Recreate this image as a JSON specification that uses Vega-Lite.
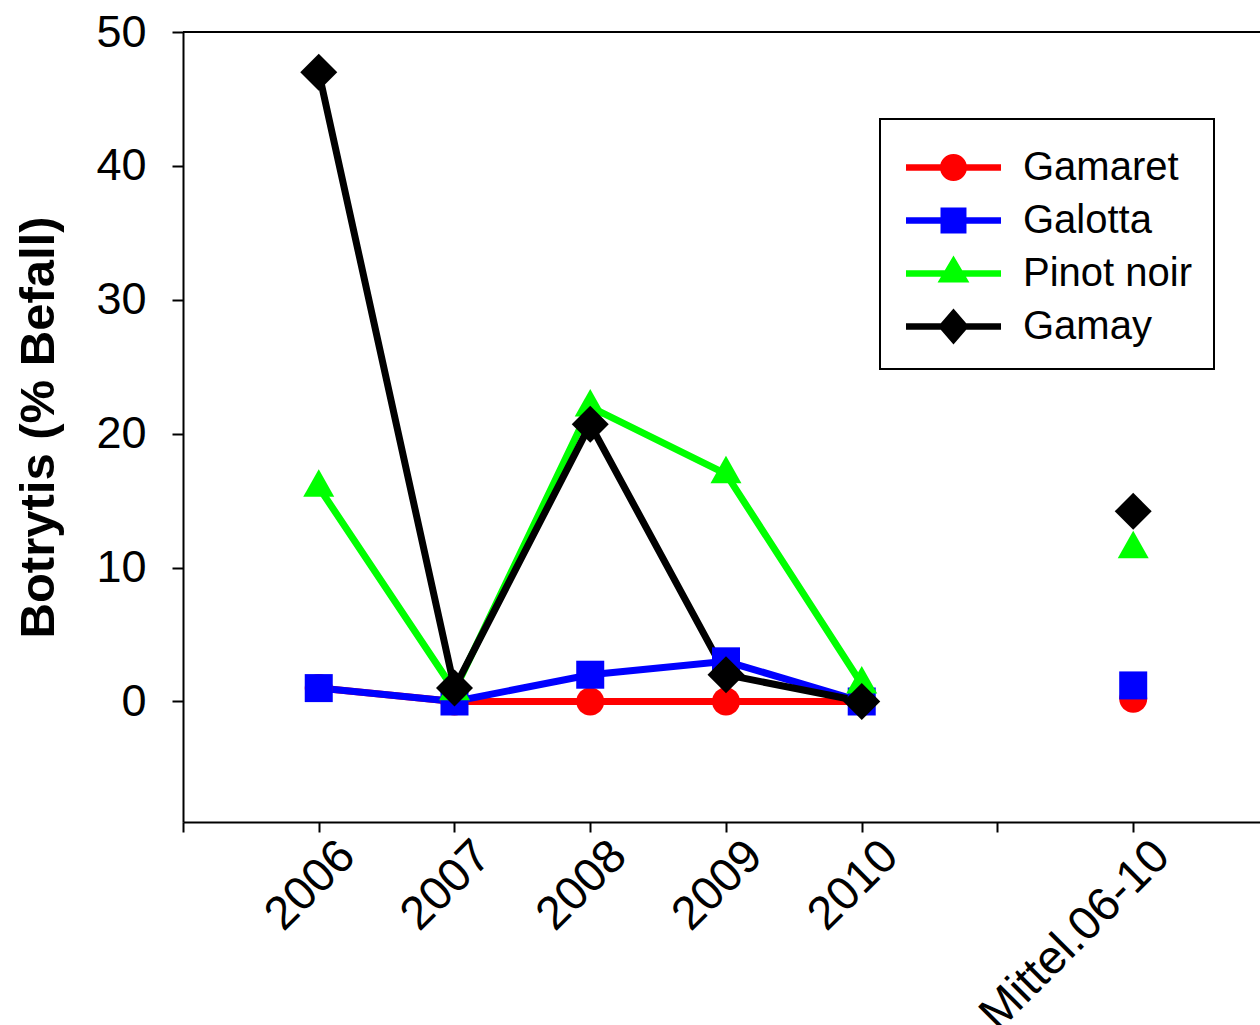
{
  "$schema": "https://vega.github.io/schema/vega-lite/v6.json",
  "width": 1077,
  "height": 790,
  "autosize": "none",
  "padding": {"left": 183, "top": 32, "right": 0, "bottom": 203},
  "background": "white",
  "config": {
    "view": {"stroke": null},
    "font": "Liberation Sans",
    "axis": {
      "domainColor": "black",
      "domainWidth": 2,
      "tickColor": "black",
      "tickWidth": 2,
      "labelColor": "black",
      "titleColor": "black",
      "labelFont": "Liberation Sans",
      "titleFont": "Liberation Sans",
      "grid": false
    },
    "legend": {
      "labelFont": "Liberation Sans",
      "labelFontSize": 40,
      "labelColor": "black",
      "labelLimit": 500
    }
  },
  "data": {
    "values": [
      {"s": "Gamaret", "x": 1, "v": 1},
      {"s": "Gamaret", "x": 2, "v": 0},
      {"s": "Gamaret", "x": 3, "v": 0},
      {"s": "Gamaret", "x": 4, "v": 0},
      {"s": "Gamaret", "x": 5, "v": 0},
      {"s": "Gamaret", "x": 7, "v": 0.2},
      {"s": "Galotta", "x": 1, "v": 1},
      {"s": "Galotta", "x": 2, "v": 0},
      {"s": "Galotta", "x": 3, "v": 2},
      {"s": "Galotta", "x": 4, "v": 3},
      {"s": "Galotta", "x": 5, "v": 0},
      {"s": "Galotta", "x": 7, "v": 1.2},
      {"s": "Pinot noir", "x": 1, "v": 16},
      {"s": "Pinot noir", "x": 2, "v": 0.8},
      {"s": "Pinot noir", "x": 3, "v": 22},
      {"s": "Pinot noir", "x": 4, "v": 17},
      {"s": "Pinot noir", "x": 5, "v": 1.3},
      {"s": "Pinot noir", "x": 7, "v": 11.4},
      {"s": "Gamay", "x": 1, "v": 47},
      {"s": "Gamay", "x": 2, "v": 1},
      {"s": "Gamay", "x": 3, "v": 20.7},
      {"s": "Gamay", "x": 4, "v": 2},
      {"s": "Gamay", "x": 5, "v": 0},
      {"s": "Gamay", "x": 7, "v": 14.2}
    ]
  },
  "encoding": {
    "x": {
      "field": "x",
      "type": "quantitative",
      "scale": {"domain": [0, 7.934], "nice": false, "zero": false},
      "axis": {
        "title": null,
        "values": [0, 1, 2, 3, 4, 5, 6, 7],
        "labelExpr": "datum.value == 1 ? '2006' : datum.value == 2 ? '2007' : datum.value == 3 ? '2008' : datum.value == 4 ? '2009' : datum.value == 5 ? '2010' : datum.value == 7 ? 'Mittel.06-10' : ''",
        "tickSize": 10,
        "labelAngle": -45,
        "labelAlign": "right",
        "labelBaseline": "top",
        "labelPadding": 0,
        "labelOffset": 12,
        "labelFontSize": 47,
        "labelLimit": 500,
        "labelOverlap": false,
        "labelBound": false,
        "labelFlush": false
      }
    },
    "y": {
      "field": "v",
      "type": "quantitative",
      "scale": {"domain": [-9, 50], "nice": false, "zero": false},
      "axis": {
        "title": "Botrytis (% Befall)",
        "titleFontSize": 49,
        "titleFontWeight": "bold",
        "titleX": -130,
        "titleBaseline": "alphabetic",
        "values": [0, 10, 20, 30, 40, 50],
        "tickSize": 11,
        "labelPadding": 26,
        "labelFontSize": 45,
        "labelOverlap": false,
        "labelFlush": false
      }
    }
  },
  "resolve": {"scale": {"color": "independent", "shape": "independent"}},
  "layer": [
    {
      "mark": {"type": "rule", "color": "black", "strokeWidth": 2},
      "encoding": {"y": {"datum": 50}, "x": null}
    },
    {
      "transform": [{"filter": "datum.x <= 5"}],
      "mark": {"type": "line", "strokeWidth": 7},
      "encoding": {
        "color": {
          "field": "s",
          "type": "nominal",
          "scale": {"domain": ["Gamaret", "Galotta", "Pinot noir", "Gamay"], "range": ["#ff0000", "#0000ff", "#00ff00", "#000000"]},
          "legend": null
        }
      }
    },
    {
      "mark": {"type": "point", "filled": true, "opacity": 1, "size": 1369},
      "encoding": {
        "color": {
          "field": "s",
          "type": "nominal",
          "scale": {"domain": ["Gamaret", "Galotta", "Pinot noir", "Gamay"], "range": ["#ff0000", "#0000ff", "#00ff00", "#000000"]},
          "legend": null
        },
        "shape": {
          "field": "s",
          "type": "nominal",
          "scale": {"domain": ["Gamaret", "Galotta", "Pinot noir", "Gamay"], "range": ["M0.757,0A0.757,0.757,0,1,1,-0.757,0A0.757,0.757,0,1,1,0.757,0Z", "M-0.757,-0.757H0.757V0.757H-0.757Z", "M0,-0.973L0.838,0.514L-0.838,0.514Z", "diamond"]},
          "legend": null
        }
      }
    },
    {
      "mark": {"type": "point", "filled": true, "opacity": 0, "size": 100},
      "encoding": {
        "color": {
          "field": "s",
          "type": "nominal",
          "scale": {"domain": ["Gamaret", "Galotta", "Pinot noir", "Gamay"], "range": ["#ff0000", "#0000ff", "#00ff00", "#000000"]},
          "legend": {
            "title": null,
            "orient": "none",
            "legendX": 697,
            "legendY": 87,
            "padding": 22,
            "strokeColor": "black",
            "fillColor": "white",
            "rowPadding": 6,
            "labelOffset": 68,
            "symbolOpacity": 1,
            "encode": {
              "legend": {"update": {"strokeWidth": {"value": 2}}},
              "symbols": {"update": {
                "size": {"value": 2809},
                "strokeWidth": {"value": 0},
                "opacity": {"value": 1}
              }}
            }
          }
        },
        "shape": {
          "field": "s",
          "type": "nominal",
          "scale": {"domain": ["Gamaret", "Galotta", "Pinot noir", "Gamay"], "range": [
            "M1.453,0A0.51,0.51,0,1,1,0.433,0A0.51,0.51,0,1,1,1.453,0ZM-0.849,-0.125H2.736V0.125H-0.849Z",
            "M0.453,-0.49H1.433V0.49H0.453ZM-0.849,-0.125H2.736V0.125H-0.849Z",
            "M0.943,-0.68L1.543,0.34H0.343ZM-0.849,-0.125H2.736V0.125H-0.849Z",
            "M0.943,-0.68L1.528,0L0.943,0.68L0.358,0ZM-0.849,-0.125H2.736V0.125H-0.849Z"
          ]},
          "legend": {
            "title": null,
            "orient": "none",
            "legendX": 697,
            "legendY": 87,
            "padding": 22,
            "strokeColor": "black",
            "fillColor": "white",
            "rowPadding": 6,
            "labelOffset": 68,
            "symbolOpacity": 1,
            "encode": {
              "legend": {"update": {"strokeWidth": {"value": 2}}},
              "symbols": {"update": {
                "size": {"value": 2809},
                "strokeWidth": {"value": 0},
                "opacity": {"value": 1}
              }}
            }
          }
        }
      }
    }
  ]
}
